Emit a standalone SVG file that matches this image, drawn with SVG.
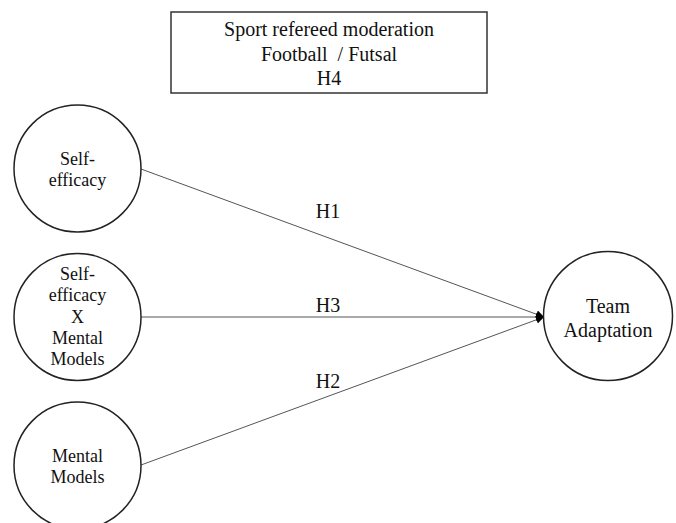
<svg xmlns="http://www.w3.org/2000/svg" width="676" height="523" viewBox="0 0 676 523">
<style>
text{font-family:"Liberation Serif","Times New Roman",serif;fill:#111;text-anchor:middle}
.node{fill:#fff;stroke:#222;stroke-width:1.5}
.edge{stroke:#555;stroke-width:1;fill:none}
.t18{font-size:18px}
.t19{font-size:20px;white-space:pre}
.t20{font-size:20px}
</style>
<defs>
<marker id="arr" markerWidth="10" markerHeight="10" refX="8" refY="4" orient="auto" markerUnits="userSpaceOnUse">
<path d="M0,0 L8,4 L0,8 Z" fill="#000"/>
</marker>
</defs>
<rect width="676" height="523" fill="#fff"/>
<g id="moderation">
<rect x="171" y="12" width="316" height="81" fill="#fff" stroke="#333" stroke-width="1.5"/>
<text class="t19" x="329" y="36">Sport refereed moderation</text>
<text class="t19" x="329" y="61">Football  / Futsal</text>
<text class="t19" x="329" y="85">H4</text>
</g>
<g id="connectors">
<line class="edge" x1="141" y1="169" x2="544" y2="317" marker-end="url(#arr)"/>
<line class="edge" x1="141" y1="317" x2="544" y2="317" marker-end="url(#arr)"/>
<line class="edge" x1="141" y1="465" x2="544" y2="317" marker-end="url(#arr)"/>
<text class="t19" x="328" y="218">H1</text>
<text class="t19" x="328" y="312">H3</text>
<text class="t19" x="328" y="388">H2</text>
</g>
<g id="self-efficacy">
<circle class="node" cx="77.5" cy="168.5" r="63.5"/>
<text class="t18" x="77.5" y="165">Self-</text>
<text class="t18" x="77.5" y="186">efficacy</text>
</g>
<g id="interaction">
<circle class="node" cx="77.5" cy="317" r="63.5"/>
<text class="t18" x="77.5" y="280">Self-</text>
<text class="t18" x="77.5" y="301">efficacy</text>
<text class="t18" x="77.5" y="323">X</text>
<text class="t18" x="77.5" y="344">Mental</text>
<text class="t18" x="77.5" y="365">Models</text>
</g>
<g id="mental-models">
<circle class="node" cx="77.5" cy="465.5" r="63.5"/>
<text class="t18" x="77.5" y="462">Mental</text>
<text class="t18" x="77.5" y="483">Models</text>
</g>
<g id="team-adaptation">
<circle class="node" cx="608" cy="316" r="64.5"/>
<text class="t20" x="608" y="313">Team</text>
<text class="t20" x="608" y="337">Adaptation</text>
</g>
</svg>
